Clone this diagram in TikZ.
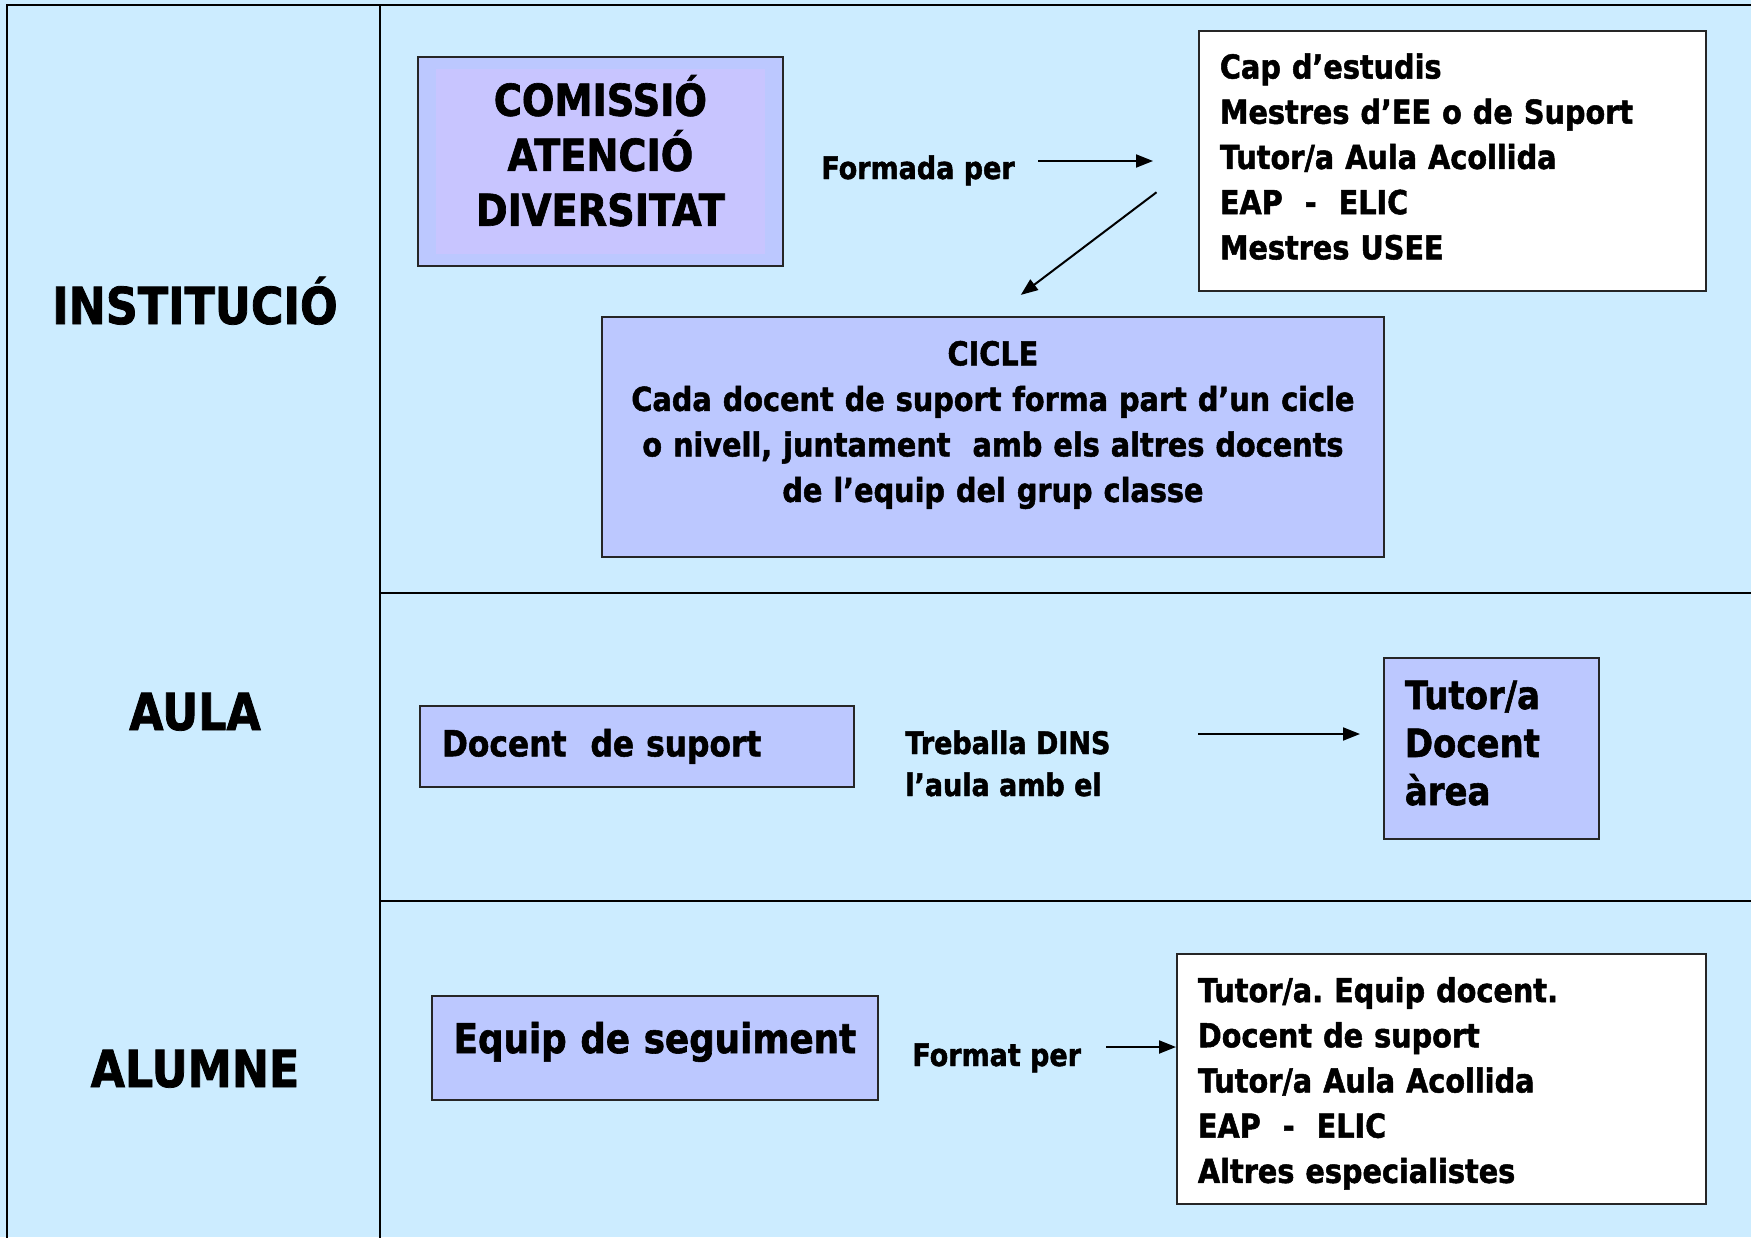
\documentclass[tikz,border=0pt]{standalone}
\usepackage{fontspec}
\setmainfont{DejaVu Sans}[FakeStretch=0.87, BoldFeatures={FakeBold=1.5}]
\usetikzlibrary{arrows.meta, positioning}
\definecolor{paneblue}{RGB}{204,236,255}
\definecolor{boxblue}{RGB}{188,200,255}
\definecolor{boxviolet}{RGB}{200,197,255}

\begin{document}
\begin{tikzpicture}[
    x=0.5pt, y=-0.5pt,
    every node/.style={font=\bfseries},
    level/.style={font=\fontsize{25.5}{30}\selectfont\bfseries, anchor=base},
    panel/.style={draw=black, line width=1.2pt},
    bluebox/.style={draw=black!85, line width=0.9pt, fill=boxblue, anchor=north west, inner ysep=0pt},
    whitebox/.style={bluebox, fill=white},
    listtext/.style={font=\fontsize{16.5}{22.6}\selectfont\bfseries, align=left},
    note/.style={font=\fontsize{15.5}{21}\selectfont\bfseries, anchor=base west, align=left, inner sep=0pt},
    every edge/.append style={line width=1pt, >={Triangle[length=8.5pt, width=6.5pt]}}
]
   \useasboundingbox (0,0) rectangle (1751,1237);

   % Panels
   \fill[paneblue] (0,0) rectangle (1751,1237);
   \draw[panel] (7,5) rectangle (1770,1260);
   \draw[panel] (380,5) -- (380,1260);
   \draw[panel] (380,593) -- (1770,593);
   \draw[panel] (380,901) -- (1770,901);

   \node[level] (inst) at (195,324) {INSTITUCIÓ};
   \node[level] (aula) at (195,730) {AULA};
   \node[level] (alum) at (195,1087) {ALUMNE};

   % Institucio
   \node[bluebox, minimum width=182.5pt, minimum height=104.5pt, text width=170pt, align=center,
         font=\fontsize{22}{27.5}\selectfont\bfseries,
         path picture={\fill[boxviolet] ([xshift=9pt,yshift=-6pt]path picture bounding box.north west)
                       rectangle ([xshift=-9pt,yshift=6pt]path picture bounding box.south east);}]
         (cad) at (417,56) {COMISSIÓ\\ATENCIÓ\\DIVERSITAT\rule[-11pt]{0pt}{0pt}};
   \node[note] (formada) at (821,179) {Formada per};
   \node[whitebox, listtext, minimum height=130pt, inner xsep=10.5pt, text width=232.5pt]
         (comlist) at (1198,30) {Cap d’estudis\\Mestres d’EE o de Suport\\Tutor/a Aula Acollida\\EAP\ \ -\ \ ELIC\\Mestres USEE\rule[-4.5pt]{0pt}{0pt}};
   \node[bluebox, minimum height=120pt, inner xsep=5.5pt, text width=380pt, align=center,
         font=\fontsize{16.5}{22.75}\selectfont\bfseries]
         (cicle) at (601,316) {CICLE\\Cada docent de suport forma part d’un cicle\\o nivell, juntament\ \ amb els altres docents\\de l’equip del grup classe\rule[-15.5pt]{0pt}{0pt}};

   % Aula
   \node[bluebox, minimum height=40.5pt, inner xsep=11pt, text width=195pt, align=left,
         font=\fontsize{18}{22}\selectfont\bfseries]
         (docent) at (419,705) {Docent\ \ de suport};
   \node[note] (treballa) at (905,796) {Treballa DINS\\l’aula amb el};
   \node[bluebox, minimum height=90.5pt, inner xsep=10.5pt, text width=86.5pt, align=left,
         font=\fontsize{19.5}{24}\selectfont\bfseries]
         (tutor) at (1383,657) {Tutor/a\\Docent\\àrea\rule[-5.6pt]{0pt}{0pt}};

   % Alumne
   \node[bluebox, minimum height=52pt, inner xsep=6.5pt, text width=210pt, align=center,
         font=\fontsize{20.5}{24}\selectfont\bfseries]
         (equip) at (431,995) {Equip de seguiment\rule[-10.4pt]{0pt}{0pt}};
   \node[note] (format) at (912,1066) {Format per};
   \node[whitebox, listtext, minimum height=125pt, inner xsep=10.5pt, text width=243.5pt]
         (alist) at (1176,953) {\rule{0pt}{17pt}Tutor/a.\ Equip docent.\\Docent de suport\\Tutor/a Aula Acollida\\EAP\ \ -\ \ ELIC\\Altres especialistes};

   % Arrows
   \coordinate (formada tail) at (1038,161);
   \coordinate (treballa tail) at (1198,734);
   \coordinate (format tail) at (1106,1047);

   \path[->]
   (formada tail) edge[shorten >=22.5pt] (formada tail -| comlist.west)
   (comlist.west) edge[shorten <=26pt, shorten >=17.5pt] (cicle.north)
   (treballa tail) edge[shorten >=11.5pt] (treballa tail -| tutor.west)
   (format tail) edge (format tail -| alist.west);
\end{tikzpicture}
\end{document}
